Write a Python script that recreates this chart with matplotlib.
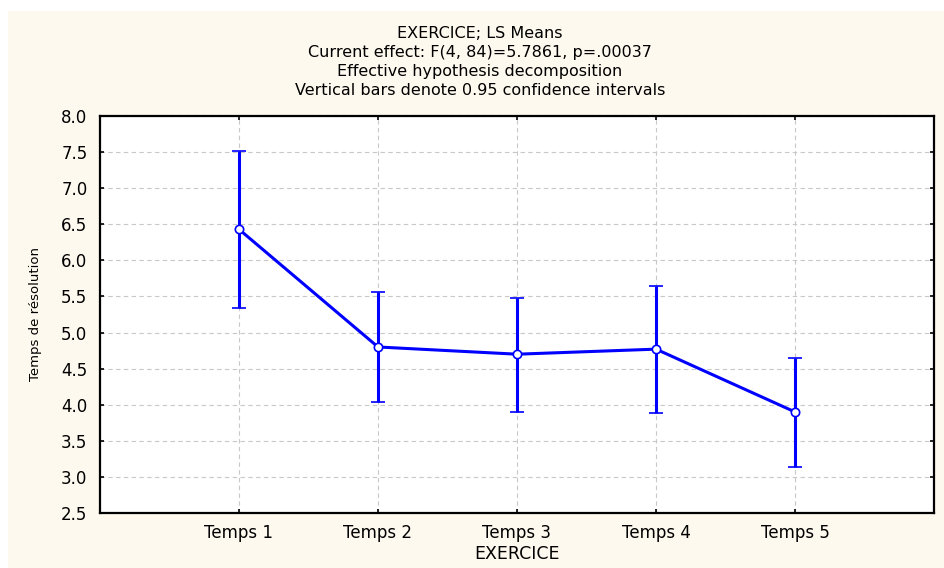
import matplotlib
matplotlib.use("Agg")
import matplotlib.pyplot as plt
from matplotlib.patches import Rectangle

# LS means per exercise, with 95% CI bounds
categories = ["Temps 1", "Temps 2", "Temps 3", "Temps 4", "Temps 5"]
means = [6.43, 4.80, 4.70, 4.77, 3.90]
upper = [7.51, 5.56, 5.48, 5.65, 4.65]
lower = [5.34, 4.04, 3.90, 3.88, 3.14]
yticks = [2.5, 3.0, 3.5, 4.0, 4.5, 5.0, 5.5, 6.0, 6.5, 7.0, 7.5, 8.0]

title_lines = ["EXERCICE; LS Means",
               "Current effect: F(4, 84)=5.7861, p=.00037",
               "Effective hypothesis decomposition",
               "Vertical bars denote 0.95 confidence intervals"]

W, H = 944, 568
fig = plt.figure(figsize=(W / 100, H / 100), dpi=100, facecolor="white")
# cream panel behind everything
fig.patches.append(Rectangle((8 / W, 0), 1 - 8 / W, 1 - 11 / H, transform=fig.transFigure,
                             facecolor="#FEF9EE", edgecolor="none", zorder=-10))

ax = fig.add_axes([100 / W, 1 - 513 / H, (934 - 100) / W, (513 - 116) / H])
ax.set_facecolor("white")

x = list(range(1, len(categories) + 1))
yerr = [[m - l for m, l in zip(means, lower)], [u - m for m, u in zip(means, upper)]]
ax.errorbar(x, means, yerr=yerr, color="#0000FF", lw=2.2, elinewidth=2.2, capsize=5,
            capthick=2.2, marker="o", ms=6, mfc="white", mec="#0000FF", mew=1.2, zorder=3)

ax.set_xlim(0, 6)
ax.set_ylim(2.5, 8.0)
ax.set_xticks(x)
ax.set_xticklabels(categories, family="DejaVu Sans", fontsize=12)
ax.set_yticks(yticks)
ax.set_yticklabels([f"{v:.1f}" for v in yticks], family="DejaVu Sans", fontsize=12)
ax.tick_params(direction="in", length=3, width=1.2, top=True, right=True)
ax.tick_params(axis="x", pad=8)
ax.tick_params(axis="y", pad=9)

ax.grid(True, color="#C8C8C8", linestyle=(0, (4, 3)), linewidth=0.8)
ax.set_axisbelow(True)
for s in ax.spines.values():
    s.set_linewidth(1.6)
    s.set_color("black")

fig.text(480 / W, 1 - 62 / H, "\n".join(title_lines), ha="center", va="center",
         family="DejaVu Sans", fontsize=11.5, linespacing=1.32)
fig.text(517 / W, 1 - 554 / H, "EXERCICE", ha="center", va="center",
         family="DejaVu Sans", fontsize=12.5)
fig.text(36 / W, 1 - 314 / H, "Temps de résolution", ha="center", va="center",
         rotation=90, family="DejaVu Sans", fontsize=9.5)

fig.savefig("out.png", dpi=100, facecolor="white")
